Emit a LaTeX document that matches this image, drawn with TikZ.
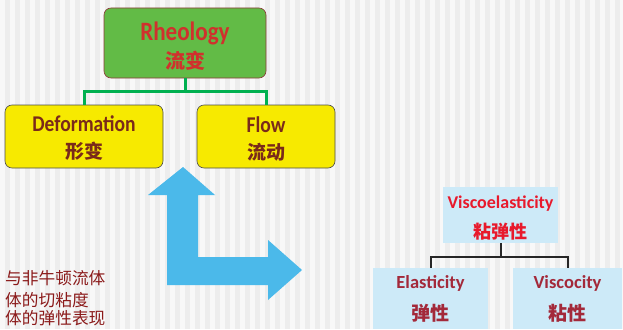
\documentclass[tikz,border=0pt]{standalone}
\usepackage{fontspec}
\setmainfont{Carlito}
\newfontfamily\cond{Carlito}[FakeStretch=0.87]
\newfontfamily\cjk{Noto Sans CJK SC}
\usetikzlibrary{calc}
\definecolor{bgA}{HTML}{EDEDED}
\definecolor{bgB}{HTML}{F8F8F8}
\definecolor{rgreen}{HTML}{62BB46}
\definecolor{rborder}{HTML}{8B3A3A}
\definecolor{rtext}{HTML}{D0312D}
\definecolor{cgreen}{HTML}{00B050}
\definecolor{yfill}{HTML}{F7EA00}
\definecolor{ytext}{HTML}{7A2A1A}
\definecolor{lblue}{HTML}{CDEAF8}
\definecolor{vtext}{HTML}{E8192C}
\definecolor{etext}{HTML}{A3293A}
\definecolor{arrowblue}{HTML}{4BB9EA}
\definecolor{lefttext}{HTML}{8B1A1A}
\tikzset{
  rheobox/.style={draw=rborder, line width=0.6pt, fill=rgreen, rounded corners=7pt, minimum width=162pt, minimum height=70pt, inner sep=0pt},
  ybox/.style={draw=black!70, line width=0.6pt, fill=yfill, rounded corners=7pt, minimum height=63pt, inner sep=0pt},
  bbox/.style={draw=none, fill=lblue, inner sep=0pt},
  rheotext/.style={inner sep=0pt, align=center, text=rtext, font=\cond\bfseries\fontsize{26.5}{28}\selectfont},
  ytxt/.style={inner sep=0pt, align=center, text=ytext, font=\cond\bfseries\fontsize{22.5}{26}\selectfont},
  btxt/.style={inner sep=0pt, align=center, font=\bfseries\fontsize{18.5}{30}\selectfont},
  gconn/.style={draw=cgreen, line width=3pt},
  kconn/.style={draw=black!85, line width=2pt},
  ltext/.style={anchor=west, inner sep=0pt, text=lefttext, font=\cjk\fontsize{16.7}{17}\selectfont}
}
\begin{document}
\begin{tikzpicture}[x=1pt,y=-1pt]
\useasboundingbox (0,0) rectangle (623,329);
% background stripes
\fill[bgA] (0,0) rectangle (623,329);
\foreach \i in {0,10,...,620} { \fill[bgB] (\i,0) rectangle (\i+5,329); }
% top tree
\node[rheobox] (rheo) at (185,43) {};
\node[rheotext, yshift=-3pt] (rheot) at (rheo.center) {Rheology\\[0pt] {\cjk\bfseries\fontsize{20}{24}\selectfont 流变}};
\node[ybox, minimum width=158pt] (def) at (84,136.5) {};
\node[ytxt, yshift=-2pt] (deft) at (def.center) {Deformation\\[1pt] {\cjk\bfseries\fontsize{19}{22}\selectfont 形变}};
\node[ybox, minimum width=138pt] (flow) at (266,136.5) {};
\node[ytxt, yshift=-2pt] (flowt) at (flow.center) {Flow\\[1pt] {\cjk\bfseries\fontsize{19}{22}\selectfont 流动}};
\coordinate (j1) at (185,91);
\draw[gconn] (rheo.south) -- (j1);
\draw[gconn] (def.north) |- (j1) -| (flow.north);
% blue L arrow
\fill[arrowblue] (183,167) -- (215,195) -- (198,195) -- (198,257) -- (268,257) -- (268,240) -- (302,270) -- (268,300) -- (268,285) -- (167,285) -- (167,195) -- (148,195) -- cycle;
% bottom tree
\node[bbox, minimum width=115pt, minimum height=56pt] (visco) at (500.5,215) {};
\node[btxt, text=vtext, yshift=-3pt] (viscot) at (visco.center) {{\fontsize{18}{20}\selectfont Viscoelasticity}\\[0pt] {\cjk\bfseries\fontsize{18}{22}\selectfont 粘弹性}};
\node[bbox, minimum width=115pt, minimum height=61pt] (elas) at (430.5,298.5) {};
\node[btxt, text=etext] (elast) at (elas.center) {Elasticity\\[2pt] {\cjk\bfseries\fontsize{19}{22}\selectfont 弹性}};
\node[bbox, minimum width=109pt, minimum height=61pt] (visc) at (567.5,298.5) {};
\node[btxt, text=etext] (visct) at (visc.center) {Viscocity\\[2pt] {\cjk\bfseries\fontsize{19}{22}\selectfont 粘性}};
\coordinate (j2) at (500.5,257);
\draw[kconn] (visco.south) -- (j2);
\draw[kconn] (elas.north) |- (j2) -| (visc.north);
% left text
\node[ltext] (l1) at (5,278) {与非牛顿流体};
\node[ltext] (l2) at (5,300) {体的切粘度};
\node[ltext] (l3) at (5,318) {体的弹性表现};
\end{tikzpicture}
\end{document}
